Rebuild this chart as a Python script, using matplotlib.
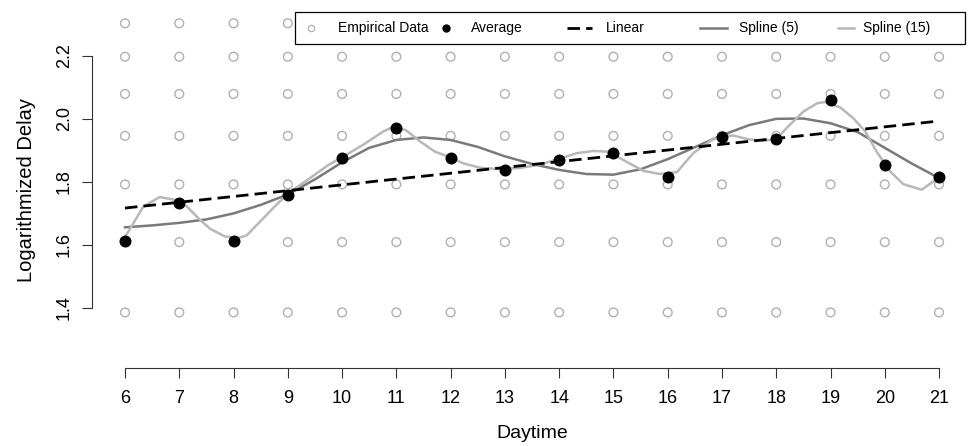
import numpy as np
import matplotlib.pyplot as plt
from matplotlib.lines import Line2D
from matplotlib.patches import Rectangle

plt.rcParams['font.family'] = ['Liberation Sans', 'DejaVu Sans']

# -----------------------
# Data
# -----------------------
hours = [6, 7, 8, 9, 10, 11, 12, 13, 14, 15, 16, 17, 18, 19, 20, 21]
emp_levels = [1.386, 1.609, 1.792, 1.946, 2.079, 2.197, 2.303]   # log delay levels present at every hour
avg = [1.613, 1.734, 1.614, 1.757, 1.877, 1.972, 1.876, 1.839,
       1.869, 1.891, 1.816, 1.942, 1.935, 2.060, 1.855, 1.814]

lin_x = [6, 21]
lin_y = [1.717, 1.993]

sp5_x = [6.0, 6.5, 7.0, 7.5, 8.0, 8.5, 9.0, 9.5, 10.0, 10.5, 11.0, 11.5, 12.0, 12.5, 13.0, 13.5,
         14.0, 14.5, 15.0, 15.5, 16.0, 16.5, 17.0, 17.5, 18.0, 18.5, 19.0, 19.5, 20.0, 20.5, 21.0]
sp5_y = [1.656, 1.662, 1.670, 1.681, 1.700, 1.727, 1.760, 1.808, 1.862, 1.908, 1.933, 1.941, 1.933,
         1.911, 1.881, 1.857, 1.838, 1.825, 1.823, 1.840, 1.872, 1.910, 1.948, 1.980, 2.000, 2.001,
         1.986, 1.958, 1.908, 1.858, 1.812]

sp15_x = [6.0, 6.34, 6.64, 6.98, 7.14, 7.35, 7.57, 7.84, 8.09, 8.24, 8.49, 8.73, 9.01, 9.41, 9.75,
          10.0, 10.39, 10.76, 10.91, 11.17, 11.44, 11.71, 12.0, 12.23, 12.54, 12.85, 13.28, 13.62,
          14.0, 14.32, 14.63, 14.9, 15.24, 15.55, 15.86, 16.17, 16.47, 16.81, 17.0, 17.21, 17.49,
          17.76, 18.0, 18.25, 18.5, 18.76, 18.9, 19.18, 19.42, 19.64, 19.85, 20.1, 20.34, 20.68,
          20.89, 21.0]
sp15_y = [1.625, 1.722, 1.752, 1.741, 1.722, 1.685, 1.651, 1.627, 1.622, 1.630, 1.674, 1.717, 1.764,
          1.812, 1.854, 1.878, 1.918, 1.960, 1.972, 1.965, 1.928, 1.896, 1.877, 1.859, 1.845, 1.841,
          1.844, 1.854, 1.873, 1.891, 1.898, 1.896, 1.864, 1.835, 1.825, 1.831, 1.891, 1.933, 1.945,
          1.947, 1.935, 1.930, 1.936, 1.981, 2.023, 2.050, 2.053, 2.036, 2.002, 1.960, 1.896, 1.833,
          1.793, 1.775, 1.801, 1.815]

c_emp = '#b0b0b0'
c_sp5 = '#7a7a7a'
c_sp15 = '#b8b8b8'

# -----------------------
# Plot
# -----------------------
fig = plt.figure(figsize=(9.72, 4.46), dpi=100)
ax = fig.add_axes([0.0951, 0.2738, 0.9045, 0.6996])

ex, ey = np.meshgrid(hours, emp_levels)
ax.scatter(ex.ravel(), ey.ravel(), s=40, facecolors='none', edgecolors=c_emp, linewidths=1.0, zorder=1)

ax.plot(lin_x, lin_y, color='black', lw=2.0, dashes=(4.5, 2.2), zorder=3)
ax.plot(sp5_x, sp5_y, color=c_sp5, lw=1.8, zorder=2)
ax.plot(sp15_x, sp15_y, color=c_sp15, lw=1.8, zorder=2)
ax.scatter(hours, avg, s=58, color='black', zorder=4)

ax.set_xlim(5.4, 21.6)
ax.set_ylim(1.3496, 2.3393)

for s in ['top', 'right']:
    ax.spines[s].set_visible(False)
ax.spines['bottom'].set_position(('outward', 31.7))
ax.spines['bottom'].set_bounds(6, 21)
ax.spines['left'].set_bounds(1.4, 2.2)
for s in ['bottom', 'left']:
    ax.spines[s].set_color('#333333')
    ax.spines[s].set_linewidth(0.8)

ax.set_xticks(hours)
ax.set_yticks([1.4, 1.6, 1.8, 2.0, 2.2])
ax.set_yticklabels(['1.4', '1.6', '1.8', '2.0', '2.2'])
ax.tick_params(axis='both', length=7.2, width=0.8, color='#333333', labelsize=13)
ax.tick_params(axis='x', pad=9)
ax.tick_params(axis='y', pad=7, labelrotation=90)
for lbl in ax.get_yticklabels():
    lbl.set_va('center')

ax.set_xlabel('Daytime', fontsize=14)
ax.set_ylabel('Logarithmized Delay', fontsize=14.5)
ax.xaxis.set_label_coords(0.5, -0.325)
ax.yaxis.set_label_coords(-0.064, 0.4295)

# Legend box (R style, horizontal)
fig.patches.append(Rectangle((295 / 972, 1 - 44 / 446), 670 / 972, 32 / 446,
                             transform=fig.transFigure, facecolor='white',
                             edgecolor='black', lw=0.9, zorder=5))
ly = 1 - 28 / 446
fig.add_artist(Line2D([311 / 972], [ly], marker='o', ms=4.5, mfc='none', mec=c_emp, mew=0.9, zorder=6))
fig.text(338 / 972, ly, 'Empirical Data', fontsize=10, va='center', zorder=6)
fig.add_artist(Line2D([446 / 972], [ly], marker='o', ms=5, color='black', zorder=6))
fig.text(471 / 972, ly, 'Average', fontsize=10, va='center', zorder=6)
fig.add_artist(Line2D([567 / 972, 592 / 972], [ly, ly], color='black', lw=2.0, dashes=(4.5, 2.2), zorder=6))
fig.text(606 / 972, ly, 'Linear', fontsize=10, va='center', zorder=6)
fig.add_artist(Line2D([700 / 972, 727 / 972], [ly, ly], color=c_sp5, lw=1.8, zorder=6))
fig.text(739 / 972, ly, 'Spline (5)', fontsize=10, va='center', zorder=6)
fig.add_artist(Line2D([838 / 972, 854 / 972], [ly, ly], color=c_sp15, lw=1.8, zorder=6))
fig.text(863 / 972, ly, 'Spline (15)', fontsize=10, va='center', zorder=6)

fig.savefig('out.png', dpi=100)
